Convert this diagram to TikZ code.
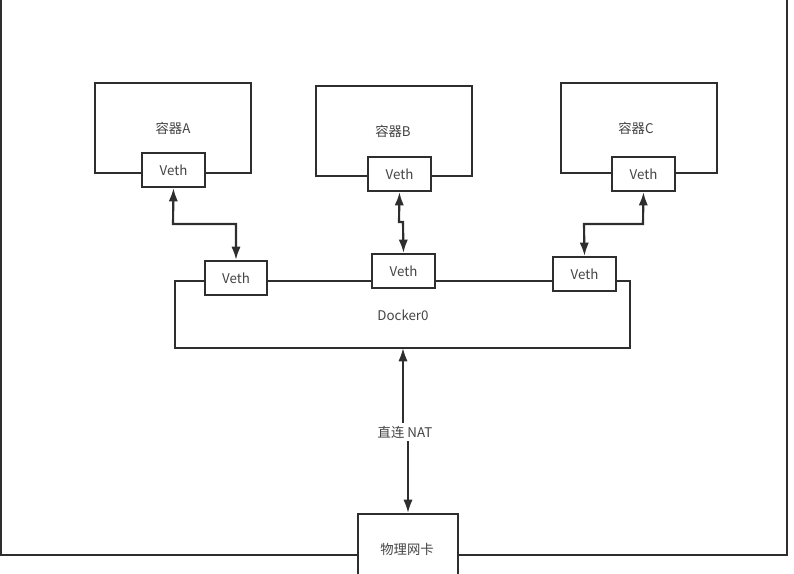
\documentclass[tikz,border=0pt]{standalone}
\usepackage{fontspec}
\setmainfont{Noto Sans CJK SC}
\usetikzlibrary{arrows.meta}
\definecolor{ln}{HTML}{2E2E2E}
\definecolor{tx}{HTML}{444444}
\begin{document}
\begin{tikzpicture}[x=0.75pt,y=-0.75pt,
  box/.style={draw=ln,line width=1.6pt,fill=white,inner sep=0pt},
  vethbox/.style={box,minimum width=47pt,minimum height=25.5pt,font=\fontsize{10}{12}\selectfont,text=tx},
  lbl/.style={font=\fontsize{10}{12}\selectfont,text=tx,inner sep=1pt},
  conn/.style={draw=ln,line width=1.6pt,{Latex[length=10pt,width=7pt]}-{Latex[length=10pt,width=7pt]}}]
\useasboundingbox (0,0) rectangle (794,574);
% outer frame
\draw[ln,line width=1.6pt] (1,-10) rectangle (787,555);
% containers
\node[box,minimum width=117pt,minimum height=67.5pt] (ca) at (173,128) {};
\node[lbl] (ta) at (173,128) {容器A};
\node[box,minimum width=117pt,minimum height=67.5pt] (cb) at (394,131) {};
\node[lbl] (tb) at (393,131) {容器B};
\node[box,minimum width=117pt,minimum height=67.5pt] (cc) at (639,128) {};
\node[lbl] (tc) at (636,128) {容器C};
\node[vethbox] (va) at (173.5,170) {Veth};
\node[vethbox] (vb) at (399.5,174) {Veth};
\node[vethbox] (vc) at (643.5,174) {Veth};
% docker0
\node[box,minimum width=341pt,minimum height=50pt] (d0) at (402.5,314.5) {};
\node[lbl] (td) at (403,315) {Docker0};
\node[vethbox] (v1) at (236,278) {Veth};
\node[vethbox] (v2) at (403.5,271) {Veth};
\node[vethbox] (v3) at (584.5,274) {Veth};
% physical NIC
\node[box,minimum width=75pt,minimum height=60pt,anchor=north] (nic) at (408,513) {};
\node[lbl] (tn) at (407,549) {物理网卡};
% connectors
\draw[conn] (va.south) -- (173,224) -- (236,224) -- (v1.north);
\draw[conn] (vb.south) -- (399,222) -- (403,222) -- (v2.north);
\draw[conn] (vc.south) -- (643,224) -- (584,224) -- (v3.north);
\draw[conn] (403,348) -- (403,432) -- (408,432) -- (nic.north);
\node[lbl,fill=white,inner sep=2pt] (nat) at (405,432) {直连 NAT};
\end{tikzpicture}
\end{document}
